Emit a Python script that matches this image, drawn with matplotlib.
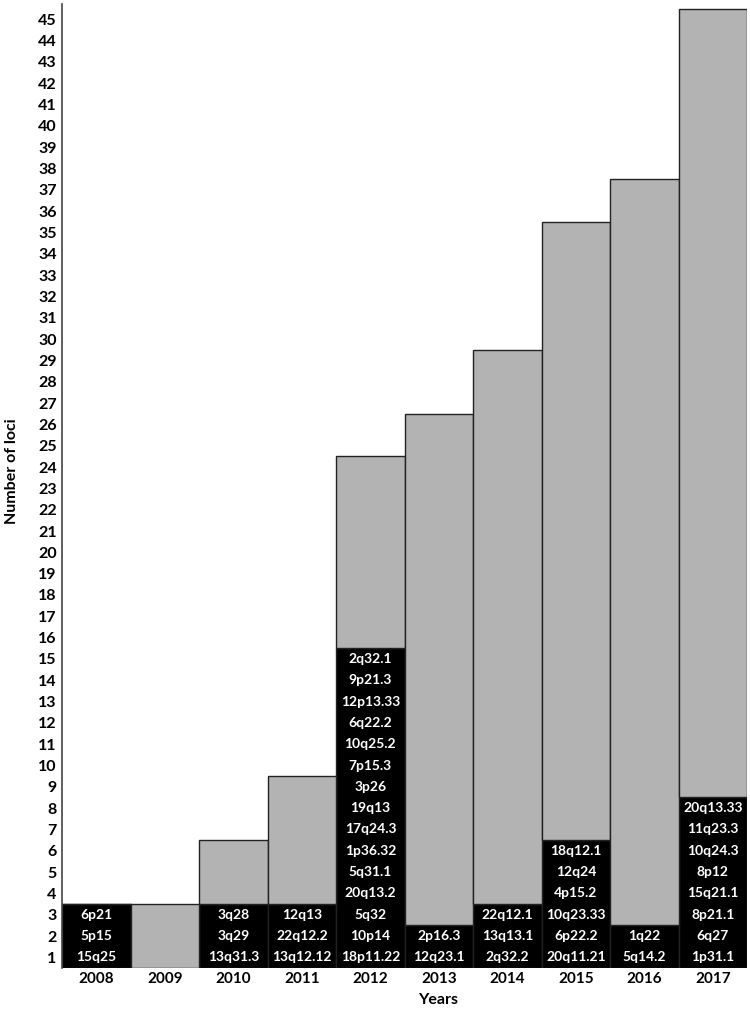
import numpy as np
import matplotlib.pyplot as plt

plt.rcParams['font.family'] = ['Lato', 'DejaVu Sans']
plt.rcParams['font.weight'] = 'bold'

years = ['2008', '2009', '2010', '2011', '2012', '2013', '2014', '2015', '2016', '2017']

# newly reported loci per year, listed bottom to top
new_loci = [
    ['15q25', '5p15', '6p21'],
    [],
    ['13q31.3', '3q29', '3q28'],
    ['13q12.12', '22q12.2', '12q13'],
    ['18p11.22', '10p14', '5q32', '20q13.2', '5q31.1', '1p36.32', '17q24.3',
     '19q13', '3p26', '7p15.3', '10q25.2', '6q22.2', '12p13.33', '9p21.3', '2q32.1'],
    ['12q23.1', '2p16.3'],
    ['2q32.2', '13q13.1', '22q12.1'],
    ['20q11.21', '6p22.2', '10q23.33', '4p15.2', '12q24', '18q12.1'],
    ['5q14.2', '1q22'],
    ['1p31.1', '6q27', '8p21.1', '15q21.1', '8p12', '10q24.3', '11q23.3', '20q13.33'],
]

n_new = np.array([len(l) for l in new_loci])
n_prev = np.concatenate([[0], np.cumsum(n_new)[:-1]])

fig = plt.figure(figsize=(7.5, 10.09), dpi=100)
ax = fig.add_axes([0.083, 0.0406, 0.913, 0.955])

x = np.arange(len(years))
base = 0.5
ax.bar(x, n_new, bottom=base, width=1.0, color='black', edgecolor='#222222', linewidth=1.0)
ax.bar(x, n_prev, bottom=base + n_new, width=1.0, color='#b3b3b3', edgecolor='#222222', linewidth=1.0)

for i, loci in enumerate(new_loci):
    for j, name in enumerate(loci):
        ax.text(x[i], j + 1, name, color='white', fontsize=10, fontweight='bold',
                ha='center', va='center')

ax.set_xlim(-0.5, len(years) - 0.5)
ax.set_ylim(0.5, 45.7)
ax.set_yticks(np.arange(1, 46))
ax.set_xticks(x)
ax.set_xticklabels(years)
ax.tick_params(axis='y', length=0, labelsize=11.5, pad=4)
ax.tick_params(axis='x', length=0, labelsize=11, pad=3)
for lab in ax.get_xticklabels() + ax.get_yticklabels():
    lab.set_fontweight('bold')

for s in ['top', 'right', 'bottom']:
    ax.spines[s].set_visible(False)
ax.spines['left'].set_color('#444444')
ax.spines['left'].set_linewidth(1.2)

fig.text(0.016, 0.533, 'Number of loci', rotation=90, fontsize=11.5, fontweight='bold',
         ha='center', va='center')
fig.text(0.584, 0.0085, 'Years', fontsize=11.5, fontweight='bold', ha='center', va='center')

fig.savefig('out.png', dpi=100)
